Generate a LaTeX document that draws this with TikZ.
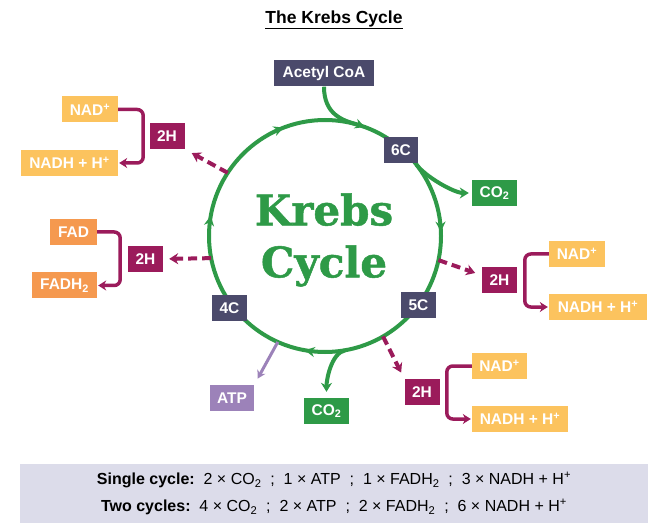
\documentclass[tikz,border=0pt]{standalone}
\usepackage{fontspec}
\setmainfont{Liberation Sans}
\newfontfamily\krebsfont[BoldFeatures={FakeBold=1.2}]{DejaVu Serif}
\usepackage{xcolor}
\usetikzlibrary{arrows.meta}
\usetikzlibrary{calc}
\usetikzlibrary{decorations.markings}

\definecolor{krebsgreen}{HTML}{2E9A47}
\definecolor{slate}{HTML}{4B4A6B}
\definecolor{maroon}{HTML}{9B1B5B}
\definecolor{nadyellow}{HTML}{FCC35E}
\definecolor{fadorange}{HTML}{F5994F}
\definecolor{atppurple}{HTML}{9C82B9}
\definecolor{panel}{HTML}{DCDCEA}

\begin{document}
\begin{tikzpicture}[x=1pt, y=1pt,
  box/.style={rectangle, inner sep=0pt, minimum height=26pt, text=white,
    font=\fontsize{15.5}{18}\selectfont\bfseries},
  carbon/.style={box, fill=slate},
  hyd/.style={box, fill=maroon, minimum width=35pt},
  nad/.style={box, fill=nadyellow},
  fadbox/.style={box, fill=fadorange},
  co2box/.style={box, fill=krebsgreen, minimum width=45pt},
  cyc/.style={draw=krebsgreen, line width=4pt},
  release/.style={cyc, -{Stealth[length=9pt, width=11pt]}},
  dashout/.style={draw=maroon, line width=4pt, dash pattern=on 9pt off 5pt,
    -{Stealth[length=9pt, width=11pt]}},
  swap/.style={draw=maroon, line width=3.5pt, rounded corners=6pt,
    -{Stealth[length=8pt, width=10pt]}, shorten >=1pt}
] % Krebs cycle

\useasboundingbox (0,0) rectangle (667,531);

%the cycle
\coordinate (cen) at (325,295);
\draw[cyc, postaction={decorate}, decoration={markings,
    mark=at position 0.056 with {\arrow{Stealth[length=10pt, width=10pt]}},
    mark=at position 0.244 with {\arrow{Stealth[length=10pt, width=10pt]}},
    mark=at position 0.528 with {\arrow{Stealth[length=10pt, width=10pt]}},
    mark=at position 0.778 with {\arrow{Stealth[length=10pt, width=10pt]}},
    mark=at position 0.942 with {\arrow{Stealth[length=10pt, width=10pt]}}}]
  ($(cen)+(0,116)$) arc[start angle=90, end angle=-270, radius=116];

\node[text=krebsgreen, align=center, font=\krebsfont\bfseries\fontsize{42}{52}\selectfont]
  (krebs) at (324,291) {Krebs\\Cycle};

%title
\node[font=\fontsize{17.5}{20}\selectfont\bfseries] (title) at (334,511) {\underline{The Krebs Cycle}};

%carbon compounds
\node[carbon, minimum width=100pt] (acetyl) at (324,457.5) {Acetyl CoA};
\node[carbon, minimum width=34pt] (sixC) at (401,381) {6C};
\node[carbon, minimum width=35pt] (fiveC) at (418.5,226) {5C};
\node[carbon, minimum width=35pt] (fourC) at (229.5,223) {4C};

%products
\node[co2box] (co2top) at (494.5,338) {CO\textsubscript{2}};
\node[co2box] (co2bot) at (326.5,120) {CO\textsubscript{2}};
\node[box, fill=atppurple, minimum width=44pt] (atp) at (232,133) {ATP};

\node[hyd] (twoHtl) at (167,395) {2H};
\node[hyd] (twoHml) at (145.5,272) {2H};
\node[hyd] (twoHr) at (499.5,251) {2H};
\node[hyd] (twoHb) at (422,139) {2H};

\node[nad, minimum width=56pt] (nadL) at (90,421.5) {NAD\textsuperscript{+}};
\node[nad, minimum width=97pt] (nadhL) at (69.5,368) {NADH + H\textsuperscript{+}};
\node[fadbox, minimum width=47pt] (fad) at (73.5,299) {FAD};
\node[fadbox, minimum width=65pt] (fadh) at (64.5,245.5) {FADH\textsubscript{2}};
\node[nad, minimum width=56pt] (nadR) at (577,277) {NAD\textsuperscript{+}};
\node[nad, minimum width=98pt] (nadhR) at (598,224) {NADH + H\textsuperscript{+}};
\node[nad, minimum width=55pt] (nadB) at (499.5,165) {NAD\textsuperscript{+}};
\node[nad, minimum width=96pt] (nadhB) at (520,112) {NADH + H\textsuperscript{+}};

%arrows in and out
\draw[cyc] (acetyl.south) .. controls +(0,-28) and +(-14,4) .. ($(cen)+(74:116)$);
\draw[release, shorten >=3pt] ($(cen)+(38:116)$) .. controls +(9,-12) and +(-18,0) .. (co2top.west);
\draw[release, shorten >=6pt] ($(cen)+(-80:116)$) .. controls +(-14,-3) and +(0,18) .. (co2bot.north);
\draw[draw=atppurple, line width=3pt, -{Stealth[length=8pt, width=9pt]}, shorten >=7pt]
  ($(cen)+(-114:116)$) -- (atp.north east);

\draw[dashout, shorten >=8pt] ($(cen)+(147:116)$) -- (twoHtl.south east);
\draw[dashout, shorten >=6pt] ($(cen)+(191:116)$) -- (twoHml.east);
\draw[dashout, shorten >=7pt] ($(cen)+(-12:116)$) -- (twoHr.165);
\draw[dashout, shorten >=7pt] ($(cen)+(-60:116)$) -- (twoHb.north west);

%hydrogen carriers
\draw[swap] (nadL.east) -- ++(25,0) |- (nadhL.east);
\draw[swap] (fad.east) -- ++(23,0) |- (fadh.east);
\draw[swap] (nadR.west) -- ++(-24,0) |- (nadhR.west);
\draw[swap] (nadB.west) -- ++(-25,0) |- (nadhB.west);

%summary
\node[fill=panel, minimum width=628pt, minimum height=59pt, align=center,
  font=\fontsize{16}{27}\selectfont] (summary) at (334,37.5)
  {\textbf{Single cycle:}\ \ 2 × CO\textsubscript{2} \ ; \ 1 × ATP \ ; \ 1 × FADH\textsubscript{2} \ ; \ 3 × NADH + H\textsuperscript{+}\\
   \textbf{Two cycles:}\ \ 4 × CO\textsubscript{2} \ ; \ 2 × ATP \ ; \ 2 × FADH\textsubscript{2} \ ; \ 6 × NADH + H\textsuperscript{+}};

\end{tikzpicture}
\end{document}
